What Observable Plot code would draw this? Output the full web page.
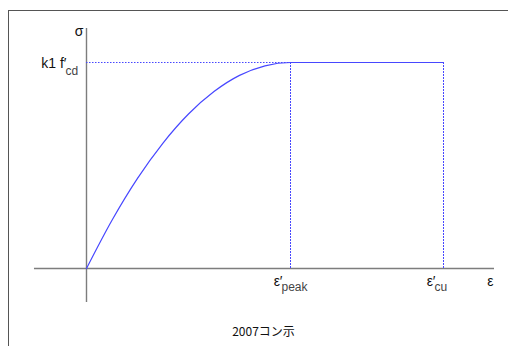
<!DOCTYPE html>
<html>
<head>
<meta charset="utf-8">
<script src="https://cdn.jsdelivr.net/npm/d3@7"></script>
<script src="https://cdn.jsdelivr.net/npm/@observablehq/plot@0.6"></script>
<style>
  html, body { margin: 0; padding: 0; background: #fff; }
  #wrap { position: relative; width: 508px; height: 346px; overflow: hidden; }
  #border { position: absolute; left: 8px; top: 10px; right: -2px; bottom: -2px;
            border-top: 1px solid #555; border-left: 1px solid #555; pointer-events: none; }
  svg { font-family: "Liberation Sans", Arial, sans-serif; }
</style>
</head>
<body>
<div id="wrap"><div id="border"></div></div>
<script>
// strain in ‰, stress normalised to k1 f'cd = 1
const strain = [0, 0.25, 0.5, 0.75, 1.0, 1.25, 1.5, 1.75, 2.0, 3.5];
const stress = [0, 0.234, 0.4375, 0.609, 0.75, 0.859, 0.9375, 0.984, 1.0, 1.0];
const epsPeak = 2.0;
const epsCu = 3.5;
const stressLevel = 1.0;
const xAxisExtent = [-0.51, 4.0];
const yAxisExtent = [-0.165, 1.165];
const xLabels = ["ε′", "ε′"];
const xSubLabels = ["peak", "cu"];
const yLabel = "k1 f′";
const ySubLabel = "cd";
const xAxisTitle = "ε";
const yAxisTitle = "σ";
const caption = "2007コン示";

const curve = strain.map((e, i) => ({e, s: stress[i]}));
const strainMarks = [epsPeak, epsCu];

const blue = "#4747ff";
const axisGray = "#7d7d7d";

const chart = Plot.plot({
  width: 508,
  height: 346,
  margin: 0,
  style: {background: "transparent", fontFamily: "'Liberation Sans', Arial, sans-serif"},
  x: {type: "linear", domain: [0, epsPeak], range: [86, 290], axis: null},
  y: {type: "linear", domain: [0, stressLevel], range: [268, 62], axis: null},
  marks: [
    // axes
    Plot.ruleY([0], {x1: xAxisExtent[0], x2: xAxisExtent[1], stroke: axisGray, strokeWidth: 1.4}),
    Plot.ruleX([0], {y1: yAxisExtent[0], y2: yAxisExtent[1], stroke: axisGray, strokeWidth: 1.4}),
    // guide lines
    Plot.ruleY([stressLevel], {x1: 0, x2: epsPeak, stroke: blue, strokeDasharray: "1.5,1.5", strokeWidth: 1}),
    Plot.ruleX(strainMarks, {y1: 0, y2: stressLevel, stroke: blue, strokeDasharray: "2,1", strokeWidth: 1}),
    // stress-strain curve
    Plot.line(curve, {x: "e", y: "s", stroke: blue, strokeWidth: 1.2, curve: "monotone-x"}),
    // x labels
    Plot.text(strainMarks.map((e, i) => ({e, t: xLabels[i]})), {x: "e", y: 0, text: "t", textAnchor: "end", lineAnchor: "bottom", dx: -8, dy: 17, fontSize: 14, fill: "#111"}),
    Plot.text(strainMarks.map((e, i) => ({e, t: xSubLabels[i]})), {x: "e", y: 0, text: "t", textAnchor: "start", lineAnchor: "bottom", dx: -9, dy: 22, fontSize: 12, fill: "#444"}),
    Plot.text([xAxisTitle], {x: xAxisExtent[1], y: 0, text: d => d, textAnchor: "end", lineAnchor: "bottom", dx: -1, dy: 17, fontSize: 14, fill: "#111"}),
    // y labels
    Plot.text([yAxisTitle], {x: 0, y: yAxisExtent[1], text: d => d, textAnchor: "end", lineAnchor: "bottom", dx: -3, dy: 7, fontSize: 14, fill: "#111"}),
    Plot.text([yLabel], {x: 0, y: stressLevel, text: d => d, textAnchor: "end", lineAnchor: "bottom", dx: -20, dy: 5, fontSize: 14, fill: "#111"}),
    Plot.text([ySubLabel], {x: 0, y: stressLevel, text: d => d, textAnchor: "start", lineAnchor: "bottom", dx: -21, dy: 12, fontSize: 12, fill: "#444"}),
    // caption
    Plot.text([caption], {frameAnchor: "bottom", text: d => d, lineAnchor: "bottom", dx: 9, dy: -11, fontSize: 12, fill: "#111", fontFamily: "'Noto Sans CJK JP', 'Liberation Sans', sans-serif"})
  ]
});
document.getElementById("wrap").appendChild(chart);
chart.style.position = "absolute";
chart.style.left = "0";
chart.style.top = "0";
</script>
</body>
</html>
